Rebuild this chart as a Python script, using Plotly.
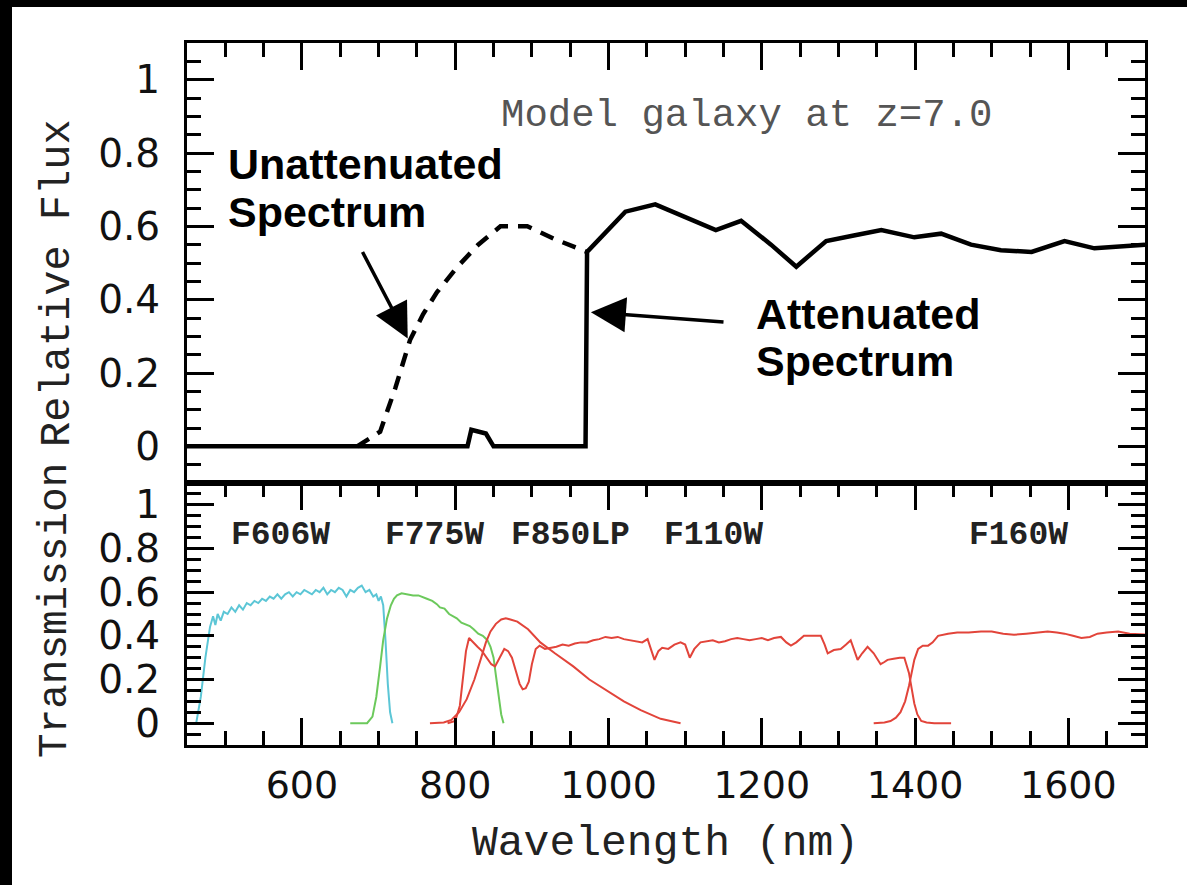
import plotly.graph_objects as go

# ---------------- data ----------------
# Top panel: model galaxy spectrum (relative flux)
att_x = [450, 816, 821, 840, 850, 970, 972, 990, 1022, 1061, 1107, 1140, 1173, 1212, 1245,
         1284, 1320, 1356, 1399, 1434, 1473, 1512, 1552, 1595, 1634, 1700]
att_y = [0, 0, 0.045, 0.035, 0, 0, 0.53, 0.57, 0.64, 0.66, 0.62, 0.59, 0.615, 0.55, 0.49,
         0.56, 0.575, 0.59, 0.57, 0.58, 0.55, 0.535, 0.53, 0.56, 0.54, 0.55]

unatt_x = [672, 702, 722, 741, 758, 776, 803, 830, 859, 894, 930, 972]
unatt_y = [0.0, 0.04, 0.16, 0.29, 0.36, 0.42, 0.49, 0.55, 0.60, 0.60, 0.565, 0.53]

# Bottom panel: filter transmission curves
f606w_x = [462, 468, 474, 480, 484, 487, 490, 494, 498, 503, 508, 513, 518, 523, 528, 533, 538,
           543, 548, 553, 558, 563, 568, 573, 578, 583, 588, 593, 598, 603, 608, 613, 618, 623,
           628, 633, 638, 643, 648, 653, 658, 663, 668, 673, 678, 683, 688, 693, 697, 700, 703,
           706, 709, 712, 715, 718]
f606w_y = [0.0, 0.12, 0.30, 0.44, 0.49, 0.45, 0.50, 0.47, 0.51, 0.50, 0.53, 0.51, 0.54, 0.52,
           0.55, 0.54, 0.56, 0.55, 0.57, 0.56, 0.58, 0.57, 0.59, 0.57, 0.59, 0.60, 0.58, 0.60,
           0.59, 0.61, 0.60, 0.59, 0.61, 0.60, 0.62, 0.59, 0.61, 0.60, 0.62, 0.61, 0.58, 0.61,
           0.60, 0.62, 0.63, 0.60, 0.61, 0.58, 0.59, 0.56, 0.58, 0.54, 0.38, 0.18, 0.05, 0.0]

f775w_x = [663, 685, 692, 697, 702, 706, 711, 716, 720, 724, 730, 737, 745, 752, 758, 763, 770,
           776, 780, 786, 792, 797, 802, 808, 814, 819, 824, 830, 836, 842, 846, 850, 853, 857,
           860, 863]
f775w_y = [0, 0, 0.03, 0.12, 0.26, 0.38, 0.48, 0.54, 0.57, 0.585, 0.595, 0.59, 0.585, 0.585,
           0.575, 0.57, 0.56, 0.545, 0.53, 0.525, 0.50, 0.49, 0.48, 0.46, 0.45, 0.445, 0.43,
           0.41, 0.40, 0.38, 0.35, 0.30, 0.22, 0.12, 0.04, 0]

f850lp_x = [767, 785, 795, 805, 815, 825, 833, 840, 846, 853, 860, 866, 872, 881, 895, 911,
            930, 954, 975, 998, 1020, 1042, 1068, 1094]
f850lp_y = [0, 0.003, 0.015, 0.05, 0.11, 0.2, 0.29, 0.37, 0.42, 0.455, 0.475, 0.48, 0.475,
            0.465, 0.43, 0.37, 0.32, 0.26, 0.20, 0.15, 0.10, 0.06, 0.02, 0.0]

f110w_x = [790, 800, 806, 810, 814, 818, 823, 829, 835, 841, 847, 852, 858, 864, 869, 874, 879,
           884, 888, 892, 896, 900, 905, 910, 917, 924, 932, 940, 948, 956, 964, 972, 980, 988,
           996, 1004, 1012, 1020, 1028, 1036, 1044, 1051, 1056, 1060, 1065, 1070, 1078, 1086,
           1094, 1100, 1106, 1112, 1120, 1128, 1136, 1144, 1152, 1160, 1168, 1176, 1184, 1192,
           1200, 1208, 1216, 1225, 1232, 1238, 1245, 1255, 1266, 1277, 1282, 1286, 1294, 1303,
           1310, 1316, 1321, 1325, 1331, 1338, 1346, 1355, 1360, 1364, 1372, 1380, 1386, 1389,
           1392, 1396, 1399, 1403, 1408, 1415, 1425, 1447]
f110w_y = [0, 0.01, 0.08, 0.2, 0.33, 0.39, 0.37, 0.35, 0.33, 0.30, 0.27, 0.26, 0.30, 0.34,
           0.33, 0.30, 0.24, 0.18, 0.155, 0.16, 0.19, 0.27, 0.34, 0.355, 0.34, 0.345, 0.35,
           0.36, 0.355, 0.365, 0.37, 0.37, 0.38, 0.385, 0.395, 0.39, 0.395, 0.385, 0.38, 0.375,
           0.37, 0.385, 0.33, 0.29, 0.33, 0.345, 0.34, 0.36, 0.37, 0.36, 0.30, 0.34, 0.37,
           0.375, 0.38, 0.37, 0.375, 0.385, 0.39, 0.385, 0.38, 0.385, 0.39, 0.38, 0.39, 0.395,
           0.37, 0.355, 0.37, 0.40, 0.40, 0.40, 0.36, 0.32, 0.335, 0.34, 0.36, 0.38, 0.33,
           0.29, 0.32, 0.35, 0.32, 0.27, 0.28, 0.29, 0.295, 0.30, 0.30, 0.27, 0.23, 0.15, 0.09,
           0.04, 0.01, 0.003, 0, 0]

f160w_x = [1346, 1360, 1368, 1375, 1381, 1387, 1392, 1396, 1399, 1404, 1410, 1417, 1423, 1430,
           1436, 1443, 1455, 1470, 1486, 1500, 1515, 1529, 1545, 1560, 1573, 1585, 1595, 1606,
           1617, 1628, 1638, 1650, 1665, 1680, 1700, 1705]
f160w_y = [0, 0.003, 0.01, 0.025, 0.05, 0.10, 0.17, 0.24, 0.29, 0.34, 0.355, 0.355, 0.37,
           0.40, 0.405, 0.41, 0.415, 0.415, 0.42, 0.42, 0.41, 0.405, 0.41, 0.415, 0.42, 0.415,
           0.41, 0.40, 0.39, 0.395, 0.41, 0.415, 0.42, 0.41, 0.405, 0.405]

filter_names = ["F606W", "F775W", "F850LP", "F110W", "F160W"]
filter_label_x = [505, 706, 870, 1070, 1468]

x_range = [450, 1700]
y_range = [-0.1, 1.1]

# ---------------- figure ----------------
CYAN = "#5cc6d6"
GREEN = "#6cc95c"
RED = "#e2443a"

fig = go.Figure()
fig.add_trace(go.Scatter(x=unatt_x, y=unatt_y, mode="lines", xaxis="x", yaxis="y",
                         line=dict(color="black", width=4.5, dash="14px,10px")))
fig.add_trace(go.Scatter(x=att_x, y=att_y, mode="lines", xaxis="x", yaxis="y",
                         line=dict(color="black", width=4.5)))

for xs, ys, c in [(f606w_x, f606w_y, CYAN), (f775w_x, f775w_y, GREEN),
                  (f850lp_x, f850lp_y, RED), (f110w_x, f110w_y, RED),
                  (f160w_x, f160w_y, RED)]:
    fig.add_trace(go.Scatter(x=xs, y=ys, mode="lines", xaxis="x2", yaxis="y2",
                             line=dict(color=c, width=2)))

W, H = 1187, 885
L, R, T, B = 187, 42, 43, 140
split = 262 / 702.0

ytickfont = dict(family="DejaVu Sans", size=39, color="#111")
xtickfont = dict(family="DejaVu Sans", size=38, color="#111")
common_axis = dict(showline=True, linecolor="black", linewidth=3, showgrid=False,
                   zeroline=False, ticks="inside", tickwidth=2.5, ticklen=27,
                   tickcolor="black")
minor_x = dict(dtick=50, ticklen=14, ticks="inside", tickwidth=2.5,
               tickcolor="black", showgrid=False)
minor_y = dict(dtick=0.05, ticklen=14, ticks="inside", tickwidth=2.5,
               tickcolor="black", showgrid=False)

fig.update_layout(
    width=W, height=H,
    margin=dict(l=L, r=R, t=T, b=B),
    paper_bgcolor="white", plot_bgcolor="white",
    showlegend=False,
    xaxis=dict(common_axis, range=x_range, domain=[0, 1], anchor="y", side="top",
               mirror=True, showticklabels=False, dtick=200, tick0=0, minor=minor_x),
    yaxis=dict(common_axis, range=y_range, domain=[split, 1], anchor="x", mirror="ticks",
               dtick=0.2, tick0=0, tickfont=ytickfont, ticklabelstandoff=16, minor=minor_y),
    xaxis2=dict(common_axis, range=x_range, domain=[0, 1], anchor="y2", mirror="ticks",
                dtick=200, tick0=0, tickfont=xtickfont, ticklabelstandoff=4, minor=minor_x),
    yaxis2=dict(common_axis, range=y_range, domain=[0, split], anchor="x2", mirror="ticks",
                dtick=0.2, tick0=0, tickfont=ytickfont, ticklabelstandoff=16, minor=minor_y),
)

def px2paper(px, py):
    return (px - L) / (W - L - R), (H - B - py) / (H - T - B)

mono = "Liberation Mono"
annotations = []
# axis titles
xp, yp = px2paper(58, 283)
annotations.append(dict(text="Relative Flux", xref="paper", yref="paper", x=xp, y=yp,
                        textangle=-90, showarrow=False, xanchor="center", yanchor="middle",
                        font=dict(family=mono, size=42, color="#222")))
xp, yp = px2paper(55, 611)
annotations.append(dict(text="Transmission", xref="paper", yref="paper", x=xp, y=yp,
                        textangle=-90, showarrow=False, xanchor="center", yanchor="middle",
                        font=dict(family=mono, size=41, color="#222")))
xp, yp = px2paper(665, 843)
annotations.append(dict(text="Wavelength (nm)", xref="paper", yref="paper", x=xp, y=yp,
                        showarrow=False, xanchor="center", yanchor="middle",
                        font=dict(family=mono, size=43, color="#222")))
# panel title
annotations.append(dict(text="Model galaxy at z=7.0", xref="x", yref="y", x=1180, y=0.90,
                        showarrow=False, xanchor="center", yanchor="middle",
                        font=dict(family=mono, size=39, color="#555")))
# spectrum labels
bold = dict(family="Liberation Sans", size=43, color="black", weight="bold")
for txt, x, y in [("Unattenuated", 501, 0.77), ("Spectrum", 501, 0.638),
                  ("Attenuated", 1190, 0.36), ("Spectrum", 1190, 0.232)]:
    annotations.append(dict(text=txt, xref="x", yref="y", x=x, y=y, showarrow=False,
                            xanchor="left", yanchor="middle", font=bold))
# arrows
annotations.append(dict(text="", xref="x", yref="y", x=738, y=0.294, axref="x", ayref="y",
                        ax=678, ay=0.534, showarrow=True, arrowhead=2, arrowsize=2.0,
                        arrowwidth=3.5, arrowcolor="black"))
annotations.append(dict(text="", xref="x", yref="y", x=977, y=0.366, axref="x", ayref="y",
                        ax=1152, ay=0.339, showarrow=True, arrowhead=2, arrowsize=2.0,
                        arrowwidth=3.5, arrowcolor="black"))
# filter labels
for name, x in zip(filter_names, filter_label_x):
    annotations.append(dict(text=name, xref="x2", yref="y2", x=x, y=0.86, showarrow=False,
                            xanchor="left", yanchor="middle",
                            font=dict(family=mono, size=33, color="#222", weight="bold")))
fig.update_layout(annotations=annotations)

# black border strips of the original image
x0, y0 = px2paper(0, H)
x1, y1 = px2paper(12, 0)
x2, y2 = px2paper(W, 7)
fig.add_shape(type="rect", xref="paper", yref="paper", x0=x0, x1=x1, y0=y0, y1=y1,
              fillcolor="black", line_width=0)
fig.add_shape(type="rect", xref="paper", yref="paper", x0=x0, x1=x2, y0=y2, y1=y1,
              fillcolor="black", line_width=0)

# remove the default page margin so the figure sits at the window origin
fig.write_html("out.html", config={"displayModeBar": False},
               post_script="document.body.style.margin='0';document.body.style.overflow='hidden';")
